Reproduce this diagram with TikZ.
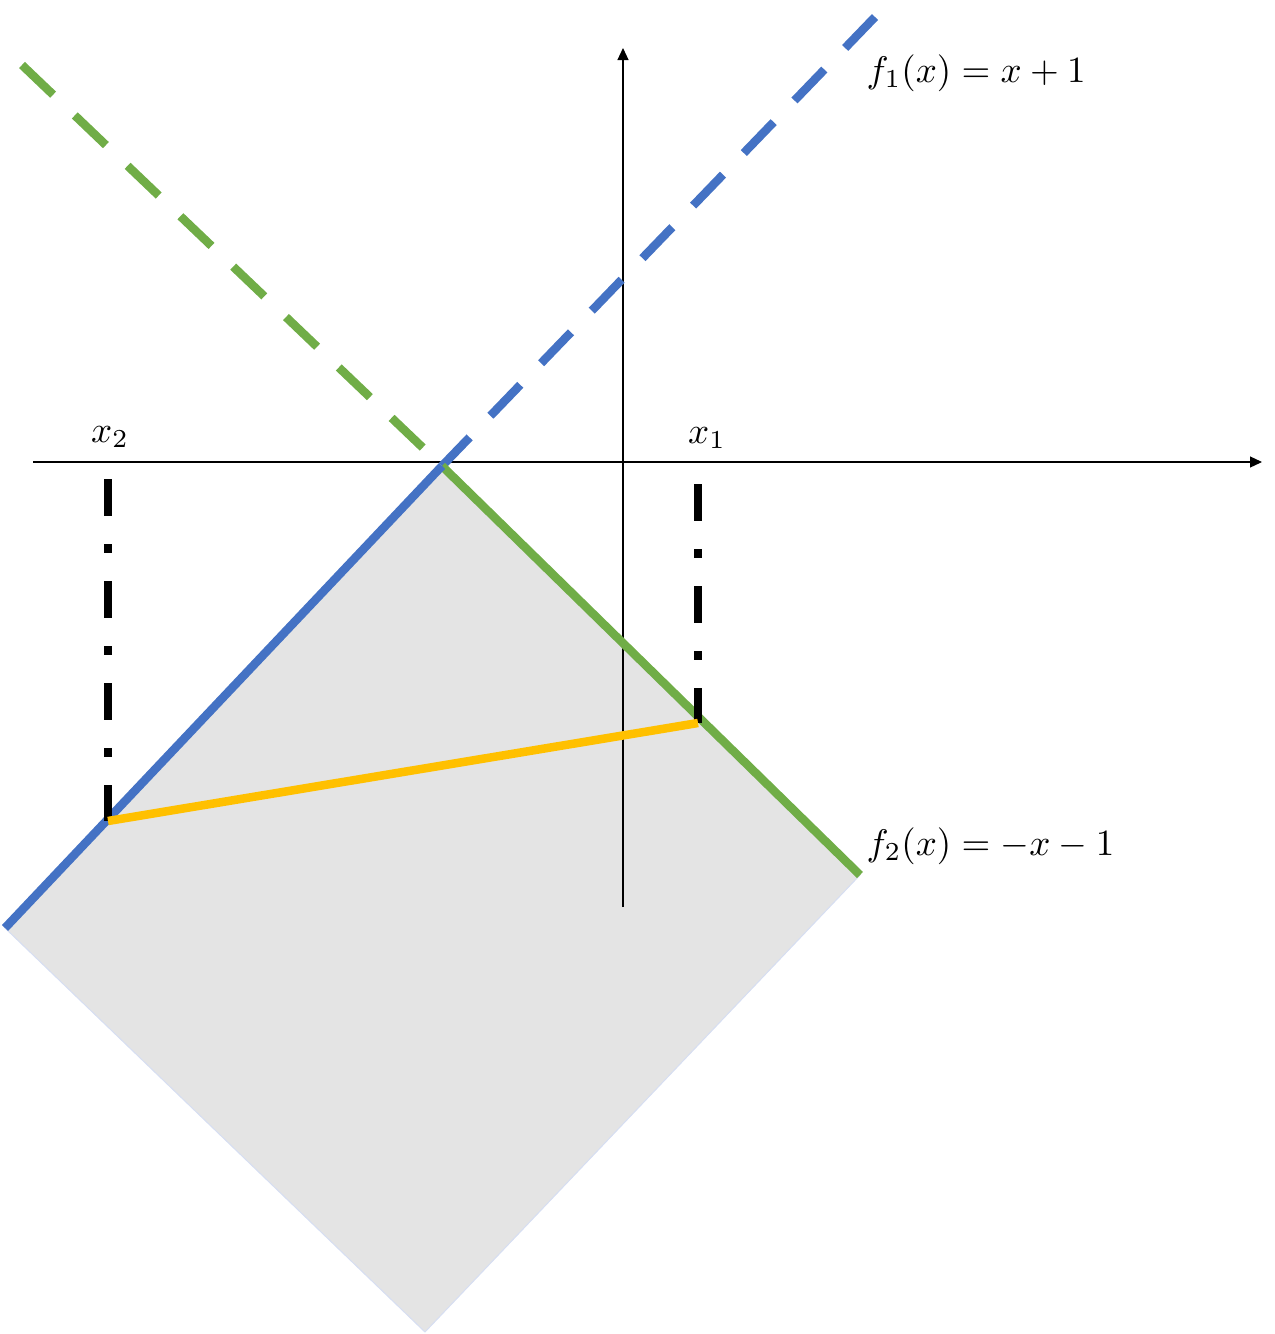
\documentclass[tikz,border=0pt]{standalone}
\usetikzlibrary{arrows.meta}
\definecolor{oblue}{HTML}{4472C4}
\definecolor{ogreen}{HTML}{70AD47}
\definecolor{oyellow}{HTML}{FFC000}
\definecolor{ogray}{HTML}{E4E4E4}
\definecolor{oedge}{HTML}{D6DEF2}
\tikzset{
  thick line/.style={line width=8.5pt},
  dashline/.style={thick line, dash pattern=on 43pt off 30pt},
  dashdotline/.style={line width=8.5pt, black, dash pattern=on 37pt off 28pt on 9pt off 28pt},
  axisline/.style={line width=1.2pt, -{Triangle[length=12pt,width=11pt]}},
  lbl/.style={scale=3.7, inner sep=0pt}
}
\begin{document}
\begin{tikzpicture}[x=1pt,y=-1pt]
\useasboundingbox (0,0) rectangle (1275,1334);
\coordinate (V) at (442,466);
\coordinate (BL) at (5,928);
\coordinate (BR) at (860,875);
\coordinate (B) at (425,1332);
\coordinate (BU) at (875,17);
\coordinate (GU) at (22,65);
\coordinate (P2) at (108,821);
\coordinate (P1) at (698,723);
\coordinate (T2) at (108,479);
\coordinate (T1) at (698,484);
\coordinate (XA) at (33,462);
\coordinate (XB) at (1262,462);
\coordinate (YA) at (623,907);
\coordinate (YB) at (623,48);
% shaded region
\fill[ogray, draw=oedge, line width=1pt] (V) -- (BR) -- (B) -- (BL) -- cycle;
% axes
\draw[axisline] (XA) -- (XB);
\draw[axisline] (YA) -- (YB);
% dashed continuations
\draw[dashline, oblue] (BU) -- (V);
\draw[dashline, ogreen] (GU) -- (V);
% solid lines
\draw[thick line, ogreen] (V) -- (BR);
\draw[thick line, oblue] (BL) -- (V);
% dash-dot verticals
\draw[dashdotline] (T2) -- (P2);
\draw[dashdotline] (T1) -- (P1);
% chord
\draw[thick line, oyellow] (P2) -- (P1);
% labels
\node[lbl, anchor=base] (lx2) at (110,442) {$x_2$};
\node[lbl, anchor=base] (lx1) at (707,443) {$x_1$};
\node[lbl, anchor=base west] (lf1) at (866,82) {$f_1(x) = x + 1$};
\node[lbl, anchor=base west] (lf2) at (866,855) {$f_2(x) = -x - 1$};
\end{tikzpicture}
\end{document}
